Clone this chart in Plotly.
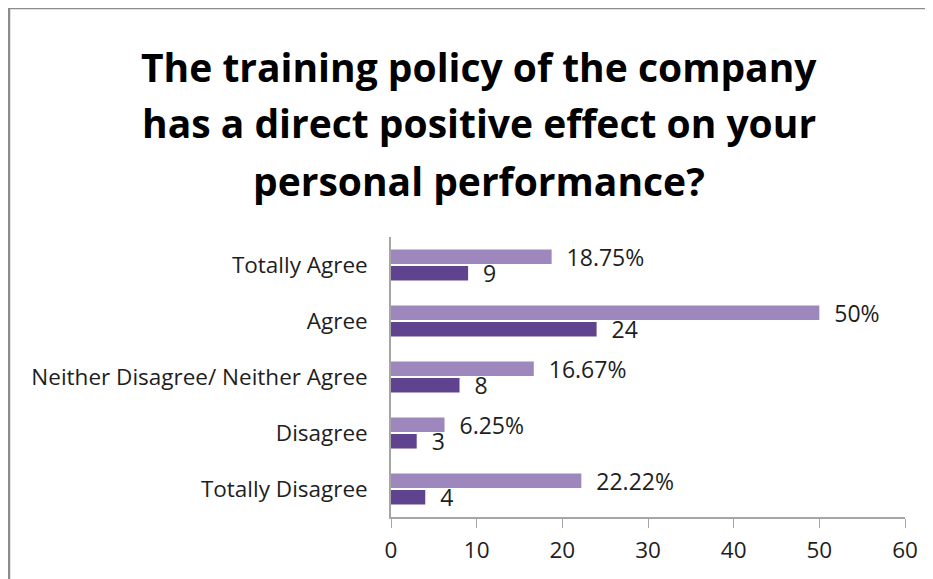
import plotly.graph_objects as go

categories = ["Totally Agree", "Agree", "Neither Disagree/ Neither Agree", "Disagree", "Totally Disagree"]
percent_values = [18.75, 50, 16.67, 6.25, 22.22]
percent_labels = ["18.75%", "50%", "16.67%", "6.25%", "22.22%"]
count_values = [9, 24, 8, 3, 4]
x_ticks = [0, 10, 20, 30, 40, 50, 60]
title_lines = ["The training policy of the company",
               "has a direct positive effect on your",
               "personal performance?"]

OFF = 8  # page body margin
W, H = 933 - OFF, 579 - OFF
L, T = 391 - OFF, 237 - OFF
R = W - (905 - OFF)
B = H - (517 - OFF)
pw, ph = W - L - R, H - T - B

def px_x(x):
    return (x - OFF - L) / pw

def px_y(y):
    return (H - B - (y - OFF)) / ph

FONT = "Open Sans"
NB = "\u00a0"
TXT = "#1e1e1e"

fig = go.Figure()
fig.add_trace(go.Bar(
    y=categories, x=percent_values, orientation="h",
    marker=dict(color="#9d87bc", line=dict(width=0)),
    text=[NB * 2 + t for t in percent_labels], textposition="outside",
    textfont=dict(family=FONT, size=23, color=TXT),
    constraintext="none", cliponaxis=False, name="Percent",
))
fig.add_trace(go.Bar(
    y=categories, x=count_values, orientation="h",
    marker=dict(color="#60438e", line=dict(width=0)),
    text=[NB * 2 + str(v) for v in count_values], textposition="outside",
    textfont=dict(family=FONT, size=23, color=TXT),
    constraintext="none", cliponaxis=False, name="Count",
))

annotations = []
for i, line in enumerate(title_lines):
    annotations.append(dict(
        text="<b>" + line + "</b>", xref="paper", yref="paper",
        x=px_x(479), y=px_y(66 + 57 * i), xanchor="center", yanchor="middle",
        showarrow=False, font=dict(family=FONT, size=39, color="#000000"),
    ))

shapes = [dict(type="rect", xref="paper", yref="paper",
               x0=px_x(9), x1=px_x(960), y0=px_y(620), y1=px_y(8),
               line=dict(color="#8c8c8c", width=2.5), layer="below")]

fig.update_layout(
    width=W, height=H,
    margin=dict(l=L, r=R, t=T, b=B, pad=0),
    paper_bgcolor="white", plot_bgcolor="white",
    barmode="group", bargap=0.41, bargroupgap=0.12,
    showlegend=False,
    annotations=annotations, shapes=shapes,
    font=dict(family=FONT, size=22.5, color=TXT),
)
fig.update_xaxes(range=[0, 60], tickvals=x_ticks, showgrid=False, zeroline=False,
                 showline=True, linecolor="#a6a6a6", linewidth=1.5,
                 ticks="outside", ticklen=9, tickcolor="#a6a6a6",
                 ticklabelstandoff=3,
                 tickfont=dict(family=FONT, size=22.5, color=TXT))
fig.update_yaxes(autorange="reversed", showgrid=False, zeroline=False,
                 showline=True, linecolor="#a6a6a6", linewidth=1.5,
                 ticks="", ticklabelstandoff=17,
                 tickfont=dict(family=FONT, size=22.5, color=TXT))

fig.write_html("out.html")
